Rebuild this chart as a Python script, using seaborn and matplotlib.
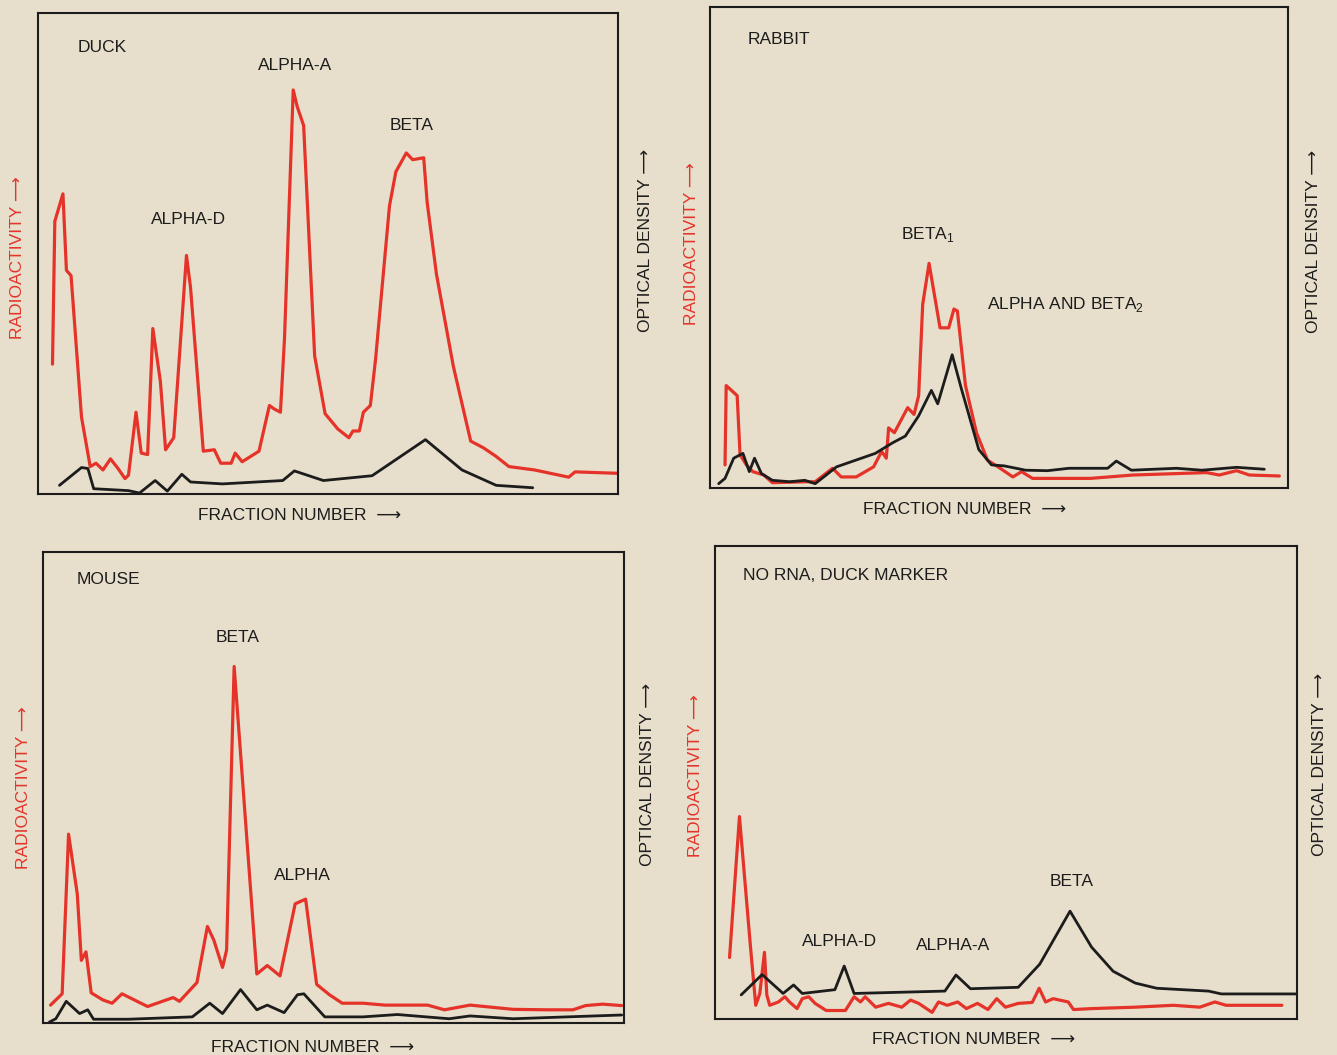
import numpy as np
import pandas as pd
import matplotlib.pyplot as plt
import seaborn as sns

# ---- data: fraction number (0-100 across the box) vs signal (% of box height)
duck_rad_x = [2.5, 2.9, 4.3, 4.9, 5.7, 7.5, 9, 10, 11.2, 12.5, 13.8, 15, 15.6, 16.9, 17.8, 18.9, 19.8, 21.1,
              22, 23.4, 25.6, 26.3, 28.5, 30.4, 31.5, 33.3, 34, 35.2, 38.1, 39.9, 40.7, 41.8, 42.5, 44,
              44.7, 45.8, 47.7, 49.5, 51.7, 53.6, 54.3, 55.4, 56.1, 57.3, 58.2, 60.6, 61.7, 63.5, 64.6,
              66.5, 67.1, 68.7, 71.6, 74.6, 76.8, 79, 81.2, 85.6, 91.5, 92.6, 100]
duck_rad_y = [27, 56.7, 62.4, 46.5, 45.4, 16, 5.7, 6.4, 5, 7.3, 5.3, 3.2, 3.9, 17, 8.5, 8.2, 34.4, 23.4,
              9.2, 11.7, 49.6, 42.9, 8.9, 9.2, 6.4, 6.4, 8.5, 6.7, 8.9, 18.4, 17.7, 17, 32.3, 84,
              80.5, 76.6, 28.7, 16.7, 13.5, 11.7, 13.1, 13.1, 17, 18.4, 28, 59.9, 67, 70.9, 69.5,
              69.9, 60.6, 45.7, 26.6, 11, 9.6, 7.8, 5.7, 5, 3.5, 4.6, 4.3]
duck_od_x = [3.7, 7.5, 8.6, 9.6, 15.6, 17.5, 20.2, 22.3, 24.8, 26.3, 31.8, 42.2, 44.2, 49.2, 57.6,
             66.8, 73.1, 79, 85.3]
duck_od_y = [1.8, 5.5, 5.3, 1.1, 0.7, 0.2, 2.8, 0.6, 4.1, 2.5, 2.1, 2.8, 4.8, 2.8, 3.8,
             11.3, 5, 1.8, 1.3]

rabbit_rad_x = [2.6, 2.8, 4.7, 5.2, 6.3, 7.4, 9.3, 10.8, 16.7, 18.2, 21.2, 22.7, 25.3, 28.3, 29.7, 30.5,
                30.9, 31.9, 34.2, 35.3, 36.1, 36.8, 37.9, 39.8, 41.3, 42.2, 42.8, 44.2, 46.1, 48, 50.2,
                52.4, 53.9, 55.8, 65.8, 73.2, 85.9, 88.1, 91.1, 93.3, 98.5]
rabbit_rad_y = [4.8, 21.3, 19.2, 6.9, 4.8, 3.4, 2.7, 1.1, 1.3, 1.3, 4.1, 2.3, 2.3, 4.4, 7.6, 6.2,
                12.5, 11.5, 16.7, 15.3, 19.2, 38.2, 46.7, 33.3, 33.3, 37.2, 36.8, 21.3, 11.5, 5.8, 4.1,
                2.3, 3.4, 2, 2, 2.7, 3.2, 2.7, 3.6, 2.7, 2.5]
rabbit_od_x = [1.5, 2.6, 4.1, 5.7, 6.8, 7.7, 8.9, 10.8, 13.8, 16.4, 18.2, 21.9, 28.6, 31.6, 33.8, 36.1,
               38.3, 39.4, 41.9, 43.5, 46.5, 48.7, 50.9, 54.6, 58.4, 62.1, 68.8, 70.3, 72.9, 80.7,
               85.1, 91.1, 95.9]
rabbit_od_y = [0.9, 2, 6.2, 7.2, 3.4, 6.2, 3, 1.6, 1.3, 1.6, 0.9, 4.4, 7.2, 9.4, 10.8, 15,
               20.3, 17.5, 27.7, 20.6, 8, 4.8, 4.6, 3.7, 3.6, 4.1, 4.1, 5.6, 3.7, 4.1,
               3.7, 4.3, 3.9]

mouse_rad_x = [1.3, 3.3, 4.4, 5.9, 6.6, 7.4, 8.3, 10.3, 11.9, 13.6, 16.2, 18, 22.4, 23.5, 26.5, 28.3,
               29.4, 30.9, 31.6, 32.9, 36.8, 38.6, 40.8, 43.4, 45.2, 47.1, 49.3, 51.5, 55.1, 58.8,
               62.5, 66.2, 69.1, 73.5, 80.9, 86.8, 91.2, 93.4, 96.3, 99.6]
mouse_rad_y = [3.8, 6.2, 40.1, 27.4, 13.3, 15.1, 6.4, 4.9, 4.2, 6.2, 4.6, 3.5, 5.4, 4.6, 8.6, 20.5,
               17.6, 11.8, 15.5, 75.7, 10.4, 12.2, 10, 25.3, 26.3, 8.2, 6, 4.2, 4.2, 3.8,
               3.8, 3.8, 2.8, 3.8, 2.9, 2.8, 2.8, 3.7, 4, 3.7]
mouse_od_x = [1.1, 2.2, 4, 6.3, 7.7, 8.7, 14.7, 25.7, 28.7, 30.9, 34, 36.8, 38.6, 41.5, 43.8, 44.9,
              48.5, 55.1, 61, 69.9, 73.5, 80.9, 99.6]
mouse_od_y = [0.2, 0.9, 4.6, 2, 2.8, 0.8, 0.8, 1.3, 4.2, 2, 7.1, 2.8, 3.8, 2.2, 6, 6.2,
              1.3, 1.3, 1.8, 0.9, 1.5, 0.9, 1.7]

norna_rad_x = [2.5, 4.2, 6.1, 7, 7.7, 8.5, 8.9, 9.4, 10.9, 12, 12.8, 14.1, 15, 16.1, 17.2, 19.1, 22.4,
               23.9, 25, 25.8, 27.6, 29.8, 32.1, 33.6, 35, 37.3, 38.4, 39.9, 41.7, 43.2, 45.1, 46.9,
               48.4, 49.9, 52.1, 54.5, 55.7, 56.8, 58.1, 60.7, 61.6, 64.7, 72.2, 78.8, 83.3, 85.9,
               87.8, 97.4]
norna_rad_y = [13, 42.8, 15.2, 2.9, 5.4, 14.1, 5.1, 2.9, 3.6, 4.7, 3.6, 2.2, 4.3, 4.7, 3.3, 1.8, 1.8,
               4.7, 3.6, 4.7, 2.5, 3.3, 2.5, 4, 3.3, 1.4, 3.6, 2.9, 3.6, 2.2, 3.3, 2,
               4.3, 2.5, 3.3, 3.5, 6.5, 3.6, 4.3, 3.6, 2, 2.2, 2.5, 2.9, 2.5, 3.6,
               2.9, 2.9]
norna_od_x = [4.5, 8.1, 11.7, 13.5, 15, 20.6, 22.2, 23.9, 39.5, 41.4, 43.9, 52.1, 55.8, 61, 64.7,
              68.4, 72.2, 75.9, 84.8, 87, 100]
norna_od_y = [5.1, 9.4, 5.4, 7.2, 5.4, 6.2, 11.2, 5.4, 5.9, 9.3, 6.4, 6.7, 11.6, 22.8, 15.2,
              10.1, 7.6, 6.5, 5.9, 5.3, 5.3]

# panel titles / peak labels
duck_labels = ["DUCK", "ALPHA-D", "ALPHA-A", "BETA"]
rabbit_labels = ["RABBIT", r"BETA$_{\mathregular{1}}$", r"ALPHA AND BETA$_{\mathregular{2}}$"]
mouse_labels = ["MOUSE", "BETA", "ALPHA"]
norna_labels = ["NO RNA, DUCK MARKER", "ALPHA-D", "ALPHA-A", "BETA"]

W, H = 1337, 1055
paper = "#e7dfcb"
red = "#e5332a"
ink = "#1c1c1c"

sns.set_style("white")
plt.rcParams['font.family'] = ['Liberation Sans', 'DejaVu Sans']
plt.rcParams['mathtext.fontset'] = 'custom'
plt.rcParams['mathtext.rm'] = 'Liberation Sans'

fig = plt.figure(figsize=(W / 100, H / 100), dpi=100, facecolor=paper)


def px(x, y):
    return x / W, 1 - y / H


def panel(box, rx, ry, ox, oy):
    l, t, r, b = box
    ax = fig.add_axes([l / W, 1 - b / H, (r - l) / W, (b - t) / H])
    ax.set_facecolor(paper)
    sns.lineplot(x=rx, y=ry, ax=ax, color=red, lw=2.3, sort=False, estimator=None)
    sns.lineplot(x=ox, y=oy, ax=ax, color=ink, lw=2.0, sort=False, estimator=None)
    ax.set_xlim(0, 100)
    ax.set_ylim(0, 100)
    ax.set_xticks([])
    ax.set_yticks([])
    ax.set_xlabel("")
    ax.set_ylabel("")
    for s in ax.spines.values():
        s.set_color(ink)
        s.set_linewidth(1.5)
    return ax


def txt(x, y, s, color=ink, rot=0, size=12.5):
    fig.text(*px(x, y), s, color=color, rotation=rot, fontsize=size,
             ha="center", va="center")


panel((38, 13, 618, 494), duck_rad_x, duck_rad_y, duck_od_x, duck_od_y)
panel((710, 7, 1288, 488), rabbit_rad_x, rabbit_rad_y, rabbit_od_x, rabbit_od_y)
panel((43, 552, 624, 1023), mouse_rad_x, mouse_rad_y, mouse_od_x, mouse_od_y)
panel((715, 546, 1297, 1019), norna_rad_x, norna_rad_y, norna_od_x, norna_od_y)

rad = "RADIOACTIVITY \u27f6"
od = "OPTICAL DENSITY \u27f6"
frac = "FRACTION NUMBER  \u27f6"

# duck
for s, (x, y) in zip(duck_labels, [(102, 48), (189, 220), (295, 66), (412, 126)]):
    txt(x, y, s)
txt(18, 258, rad, red, 90)
txt(645, 240, od, ink, 90)
txt(300, 516, frac)

# rabbit
for s, (x, y) in zip(rabbit_labels, [(779, 40), (928, 234), (1065, 304)]):
    txt(x, y, s)
txt(691, 244, rad, red, 90)
txt(1314, 241, od, ink, 90)
txt(965, 510, frac)

# mouse
for s, (x, y) in zip(mouse_labels, [(108, 580), (238, 637), (302, 876)]):
    txt(x, y, s)
txt(24, 788, rad, red, 90)
txt(648, 774, od, ink, 90)
txt(313, 1047, frac)

# no RNA
for s, (x, y) in zip(norna_labels, [(846, 575), (840, 941), (953, 946), (1072, 881)]):
    txt(x, y, s)
txt(695, 776, rad, red, 90)
txt(1320, 764, od, ink, 90)
txt(974, 1040, frac)

fig.savefig("out.png", dpi=100, facecolor=paper)
